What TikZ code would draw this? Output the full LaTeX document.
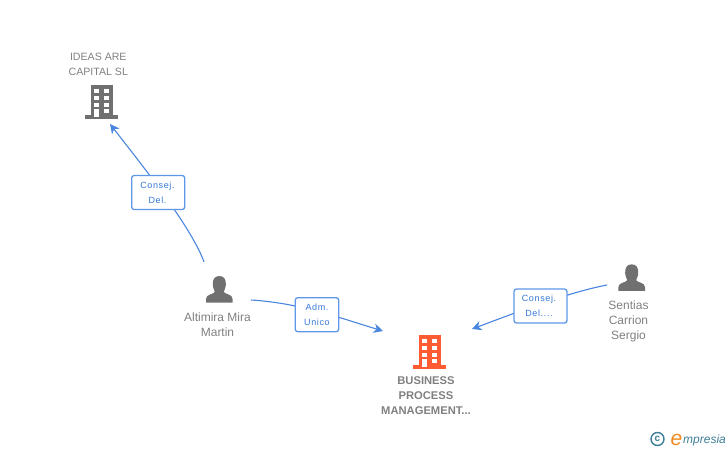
\documentclass[tikz,border=0pt]{standalone}
\usepackage{fontspec}
\setmainfont{Liberation Sans}
\usetikzlibrary{arrows.meta}
\definecolor{lbl}{HTML}{808080}
\definecolor{icon}{HTML}{707070}
\definecolor{edge}{HTML}{4A86E0}
\definecolor{boxedge}{HTML}{5F97E8}
\definecolor{boxtxt}{HTML}{3578D8}
\definecolor{orng}{HTML}{FF5C33}
\definecolor{teal}{HTML}{3E7E98}
\definecolor{logoe}{HTML}{F08A1E}
\tikzset{
  x=1pt,y=-1pt,
  lab/.style={text=lbl,font=\fontsize{12}{15}\selectfont,align=center,inner sep=0pt},
  capslab/.style={lab,font=\fontsize{10.6}{15}\selectfont},
  blab/.style={lab,font=\fontsize{11.2}{15}\bfseries\selectfont},
  rel/.style={draw=boxedge,line width=1.3pt,fill=white,rounded corners=2.5pt,text=boxtxt,align=center,inner sep=0pt,
     font=\fontsize{9}{15}\selectfont\addfontfeatures{LetterSpace=7},minimum height=34pt},
  conn/.style={draw=edge,line width=1.1pt},
  tip/.style={-{Stealth[length=9.5pt,width=9.5pt,inset=3pt]}},
  bldg/.pic={
    \fill[pic actions] (-11,0) rectangle (11,31);
    \fill[pic actions] (-16.5,30) rectangle (16.5,34);
    \foreach \yy in {4.3,11,17.7}{
      \fill[white] (-8,\yy) rectangle (-3,\yy+4);
      \fill[white] (2,\yy) rectangle (7,\yy+4);
    }
    \fill[white] (2,24) rectangle (7,28);
    \fill[white] (-7.5,24) rectangle (-3,31.5);
  },
  pers/.pic={
    \fill[pic actions] (0,0) .. controls (5,0) and (7,4) .. (6.5,9)
      .. controls (6.2,13) and (4.5,14.5) .. (4.5,16)
      .. controls (6,18.5) and (13.3,18) .. (13.3,23) -- (13.3,26.5) -- (-13.3,26.5) -- (-13.3,23)
      .. controls (-13.3,18) and (-6,18.5) .. (-4.5,16)
      .. controls (-4.5,14.5) and (-6.2,13) .. (-6.5,9)
      .. controls (-7,4) and (-5,0) .. (0,0) -- cycle;
  }
}
\begin{document}
\begin{tikzpicture}
\useasboundingbox (0,0) rectangle (728,450);
% icons
\pic[icon] at (101.5,85) {bldg};
\pic[orng] at (429.5,335) {bldg};
\pic[icon] at (219.3,276) {pers};
\pic[icon] at (631.7,264.3) {pers};
% labels
\node[capslab] (ideas) at (98.3,64) {IDEAS ARE\\CAPITAL SL};
\node[lab] (alti) at (217.5,324.5) {Altimira Mira\\Martin};
\node[lab] (sent) at (628.5,321) {Sentias\\Carrion\\Sergio};
\node[blab] (bpm) at (426,396) {BUSINESS\\PROCESS\\MANAGEMENT...};
% connector ends
\coordinate (a1) at (204,262);
\coordinate (a2) at (110,124);
\coordinate (b1) at (251,300);
\coordinate (b2) at (383,331);
\coordinate (c1) at (607,285);
\coordinate (c2) at (472,329);
% connectors
\draw[conn,tip] (a1) .. controls (192,228) and (142,165) .. (a2);
\draw[conn,tip] (b1) .. controls (300,303) and (340,318) .. (b2);
\draw[conn,tip] (c1) .. controls (570,292) and (520,311) .. (c2);
% relation boxes
\node[rel,minimum width=53pt] (r1) at (158.2,192.5) {\kern-1.5pt Consej.\\\kern-1.5pt Del.};
\node[rel,minimum width=43.5pt] (r2) at (317,314.7) {Adm.\\Unico};
\node[rel,minimum width=53pt] (r3) at (540.5,306) {\kern-3pt Consej.\\\kern-3pt Del....};
% logo
\node[draw=teal,line width=1.4pt,circle,minimum size=13pt,inner sep=0pt,text=teal,font=\fontsize{10}{10}\bfseries\selectfont] (copy) at (657.5,439) {c};
\node[inner sep=0pt,text=logoe,font=\fontsize{21}{21}\itshape\selectfont,anchor=base west] (elogo) at (670.5,445) {e};
\node[inner sep=0pt,text=teal,font=\fontsize{12}{12}\itshape\selectfont,anchor=base west] (mpr) at (683,443) {mpresia};
\end{tikzpicture}
\end{document}
